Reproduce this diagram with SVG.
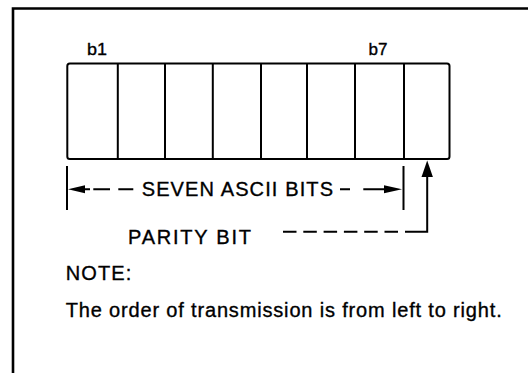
<svg xmlns="http://www.w3.org/2000/svg" width="528" height="375" viewBox="0 0 528 375">
<style>
text{font-family:"Liberation Sans",Arial,sans-serif;fill:#000;stroke:#000;stroke-width:0.35}
.big{font-size:20px}
.small{font-size:17px}
.ln{stroke:#000;stroke-width:2;fill:none}
.ah{fill:#000;stroke:none}
</style>
<rect width="528" height="375" fill="#fff"/>
<g id="frame">
<path d="M13,373 V8.5 H528" stroke="#000" stroke-width="2.6" fill="none"/>
</g>
<g id="register">
<rect x="67.3" y="63.5" width="382.2" height="95.5" rx="2.5" class="ln"/>
<path class="ln" d="M117.8,63.5V159M165,63.5V159M212.8,63.5V159M261,63.5V159M307,63.5V159M355,63.5V159M404,63.5V159"/>
<text class="small" x="87" y="55" textLength="20" lengthAdjust="spacingAndGlyphs">b1</text>
<text class="small" x="368.5" y="55" textLength="19" lengthAdjust="spacingAndGlyphs">b7</text>
</g>
<g id="connectors">
<path class="ln" d="M67,166V210M403.5,166V210"/>
<path class="ah" d="M68,189.3L85,185.3V193.3Z"/>
<path class="ln" d="M84,189.3H90M93.3,189.3H110M118.3,189.3H133.3M340,189.3H350M363.3,189.3H385"/>
<path class="ah" d="M402,189.3L384,185.3V193.3Z"/>
<path class="ah" d="M427.2,160.5L421.5,177L432.9,177Z"/>
<path class="ln" d="M427.2,175V231.7H405"/>
<path class="ln" d="M398,231.7H283" stroke-dasharray="13.5 6.8"/>
</g>
<g id="labels">
<text class="big" x="141.7" y="196.3" textLength="191.3" lengthAdjust="spacing">SEVEN ASCII BITS</text>
<text class="big" x="128" y="243.5" textLength="123" lengthAdjust="spacing">PARITY BIT</text>
<text class="big" x="65.7" y="279.5" textLength="65.6" lengthAdjust="spacing">NOTE:</text>
<text class="big" x="65.7" y="317" textLength="436" lengthAdjust="spacing">The order of transmission is from left to right.</text>
</g>
</svg>
